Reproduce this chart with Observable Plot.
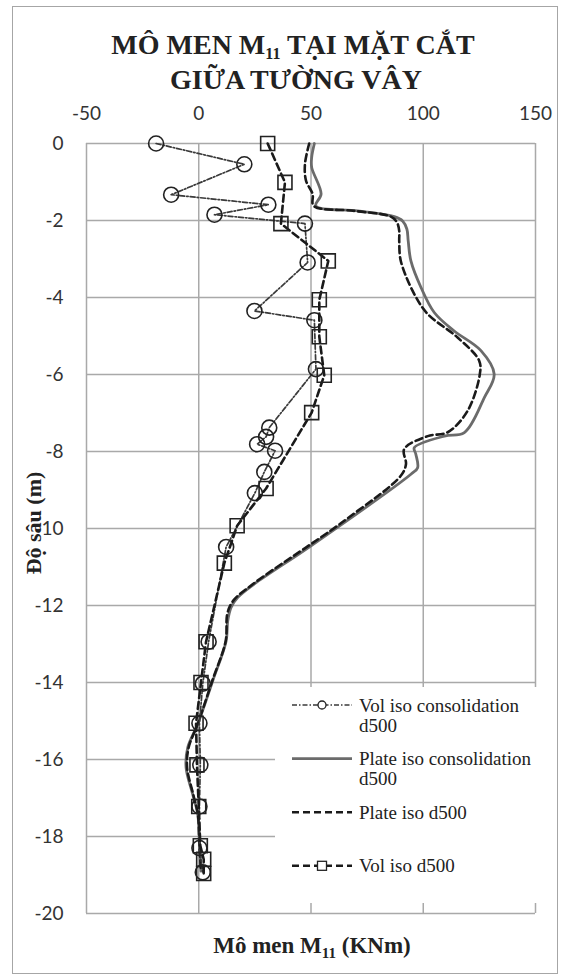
<!DOCTYPE html>
<html><head><meta charset="utf-8">
<script src="https://cdn.jsdelivr.net/npm/d3@7"></script>
<script src="https://cdn.jsdelivr.net/npm/@observablehq/plot@0.6"></script>
<style>
html,body{margin:0;padding:0;background:#fff;}
#wrap{position:relative;width:565px;height:975px;overflow:hidden;background:#fff;}
#frame{position:absolute;left:12px;top:6px;width:546px;height:968px;border:1.5px solid #a6a6a6;box-sizing:border-box;}
#chart{position:absolute;left:0;top:0;}
</style></head><body>
<div id="wrap"><div id="frame"></div><div id="chart"></div></div>
<script>
// ---- data ----
const titleLine1 = ["MÔ MEN M", "11", " TẠI MẶT CẮT"];
const titleLine2 = "GIỮA TƯỜNG VÂY";
const xLabelParts = ["Mô men M", "11", " (KNm)"];
const yLabel = "Độ sâu (m)";
const xTicks = [-50, 0, 50, 100, 150];
const yTicks = [0, -2, -4, -6, -8, -10, -12, -14, -16, -18, -20];
const seriesNames = ["Vol iso consolidation d500", "Plate iso consolidation d500", "Plate iso d500", "Vol iso d500"];

const volConsDepth  = [0, -0.54, -1.33, -1.59, -1.85, -2.08, -3.09, -4.35, -4.59, -5.86, -7.38, -7.62, -7.81, -7.98, -8.53, -9.08, -10.48, -12.94, -14.03, -15.06, -16.14, -17.22, -18.3, -18.93];
const volConsMoment = [-19, 20.3, -12.3, 31, 7, 47.3, 48.5, 24.8, 51.5, 52.2, 31.4, 30, 26, 34, 29.2, 25, 12.2, 4.4, 1.8, 0.3, 0.7, 0.3, 0.3, 1.8];

const plateConsDepth  = [0, -0.36, -0.62, -1.31, -1.62, -1.75, -1.9, -2.01, -2.22, -2.53, -3.05, -3.74, -4.39, -4.87, -5.38, -5.99, -6.6, -7.51, -7.6, -7.9, -8.07, -8.42, -8.59, -10.45, -11.44, -11.79, -12.05, -12.4, -12.92, -13.96, -15.08, -15.69, -16.21, -16.9, -17.42, -18.2, -18.9];
const plateConsMoment = [51.5, 50.3, 50.3, 54.5, 52.2, 70.8, 87.1, 90.8, 92.7, 93.3, 94.5, 99, 104.9, 113.8, 125.7, 131.6, 127.2, 118.3, 109.4, 96, 96.7, 97.5, 94.5, 50, 24.8, 17.4, 14.4, 12.9, 12.2, 6.2, -0.45, -4.9, -5.65, -2.7, -0.45, 0.3, 1];

const plateDepth  = [0, -0.54, -0.97, -1.31, -1.62, -1.75, -1.9, -2.05, -2.27, -2.53, -3.05, -3.91, -4.43, -5.04, -5.64, -5.99, -6.94, -7.5, -7.6, -7.94, -8.33, -8.63, -9.8, -11.45, -11.88, -12.22, -12.92, -13.96, -15.08, -15.69, -16.21, -16.9, -17.42, -18.2, -18.9];
const plateMoment = [49.2, 47.3, 47.8, 50.7, 51.2, 69.3, 85.6, 88.3, 89.3, 89.3, 90, 96, 102, 115.3, 124.9, 125.2, 119.8, 110.9, 102, 91.5, 92.3, 90, 64.8, 24, 15.3, 12.7, 12.0, 6.0, -0.5, -4.5, -5.2, -2.5, -0.4, 0.3, 1];

const volDepth  = [0, -1.01, -2.08, -3.05, -4.06, -5.02, -6.02, -6.99, -8.96, -9.93, -10.9, -12.94, -14.0, -15.06, -16.14, -17.22, -18.24, -18.59, -18.96];
const volMoment = [30.7, 38.4, 36.6, 57.7, 53.7, 53.7, 55.9, 50.3, 30, 17.1, 11.4, 3.25, 1, -1.2, -0.8, 0, 0.7, 2.2, 2.2];

// ---- build tables ----
const toRows = (ms, ds) => ms.map((m, i) => ({m, d: ds[i]}));
const volCons = toRows(volConsMoment, volConsDepth);
const plateCons = toRows(plateConsMoment, plateConsDepth);
const plateIso = toRows(plateMoment, plateDepth);
const volIso = toRows(volMoment, volDepth);

const styles = [
  {stroke: "#3a3a3a", strokeWidth: 1.7, dash: "5,2,1.5,2", symbol: "circle"},
  {stroke: "#6b6b6b", strokeWidth: 2.8, dash: null, symbol: null},
  {stroke: "#1a1a1a", strokeWidth: 2.6, dash: "7,4", symbol: null},
  {stroke: "#1a1a1a", strokeWidth: 2.6, dash: "7,4", symbol: "square"}
];
const grid = "#a9a9a9";

const chart = Plot.plot({
  width: 565, height: 975,
  marginLeft: 86, marginRight: 30, marginTop: 143, marginBottom: 62,
  style: {fontFamily: "Lato, 'Liberation Sans', sans-serif", fontSize: "19px", color: "#333", background: "transparent", overflow: "visible"},
  x: {domain: [-50, 150]},
  y: {domain: [-20, 0]},
  marks: [
    Plot.ruleX(xTicks, {stroke: grid, strokeWidth: 1.5}),
    Plot.ruleY(yTicks, {stroke: grid, strokeWidth: 1.5}),
    Plot.line(plateCons, {x: "m", y: "d", stroke: styles[1].stroke, strokeWidth: styles[1].strokeWidth, curve: "catmull-rom"}),
    Plot.line(plateIso, {x: "m", y: "d", stroke: styles[2].stroke, strokeWidth: styles[2].strokeWidth, strokeDasharray: styles[2].dash, curve: "catmull-rom"}),
    Plot.line(volCons, {x: "m", y: "d", stroke: styles[0].stroke, strokeWidth: styles[0].strokeWidth, strokeDasharray: styles[0].dash}),
    Plot.dot(volCons, {x: "m", y: "d", r: 7.5, stroke: "#222", strokeWidth: 1.6, fill: "none"}),
    Plot.line(volIso, {x: "m", y: "d", stroke: styles[3].stroke, strokeWidth: styles[3].strokeWidth, strokeDasharray: styles[3].dash}),
    Plot.dot(volIso, {x: "m", y: "d", symbol: "square", r: 7.9, stroke: "#222", strokeWidth: 1.6, fill: "none"}),
    Plot.axisX({anchor: "top", ticks: xTicks, tickSize: 0, tickPadding: 24, tickFormat: d => String(d), label: null}),
    Plot.axisY({ticks: yTicks, tickSize: 0, tickPadding: 23, tickFormat: d => String(d), label: null})
  ]
});
document.getElementById("chart").appendChild(chart);

// ---- annotations ----
const svg = d3.select(chart);
const serif = "'Liberation Serif', 'Times New Roman', serif";
function subText(x, y, parts, size, subSize, drop) {
  const t = svg.append("text").attr("x", x).attr("y", y).attr("text-anchor", "middle")
    .style("font-family", serif).style("font-weight", "bold").style("font-size", size + "px").attr("fill", "#222");
  t.append("tspan").text(parts[0]);
  t.append("tspan").attr("dy", drop).style("font-size", subSize + "px").text(parts[1]);
  t.append("tspan").attr("dy", -drop).text(parts[2]);
  return t;
}
subText(293, 54, titleLine1, 28, 16, 4.5);
svg.append("text").attr("x", 296).attr("y", 89).attr("text-anchor", "middle")
  .style("font-family", serif).style("font-weight", "bold").style("font-size", "28px").attr("fill", "#222").text(titleLine2);
subText(312, 953, xLabelParts, 23, 15, 5);
svg.append("text").attr("transform", "translate(33,523) rotate(-90)").attr("text-anchor", "middle").attr("dy", "0.35em")
  .style("font-family", serif).style("font-weight", "bold").style("font-size", "22px").attr("fill", "#222").text(yLabel);

// legend
const lg = svg.append("g");
lg.append("rect").attr("x", 275).attr("y", 687).attr("width", 270).attr("height", 216).attr("fill", "#fff");
const wrap = name => {
  if (name.length <= 15) return [name];
  const k = name.lastIndexOf(" ");
  return [name.slice(0, k), name.slice(k + 1)];
};
seriesNames.forEach((name, i) => {
  const y = 705 + i * 53.6;
  const s = styles[i];
  lg.append("line").attr("x1", 292).attr("x2", 352).attr("y1", y).attr("y2", y)
    .attr("stroke", s.stroke).attr("stroke-width", s.strokeWidth).attr("stroke-dasharray", s.dash);
  if (s.symbol === "circle") {
    lg.append("circle").attr("cx", 322).attr("cy", y).attr("r", 4).attr("fill", "#fff").attr("stroke", "#222").attr("stroke-width", 1.3);
  } else if (s.symbol === "square") {
    lg.append("rect").attr("x", 317.5).attr("y", y - 4.5).attr("width", 9).attr("height", 9).attr("fill", "#fff").attr("stroke", "#222").attr("stroke-width", 1.3);
  }
  const t = lg.append("text").attr("x", 359).attr("y", y + 6.5).attr("text-anchor", "start")
    .style("font-family", serif).style("font-size", "19px").attr("fill", "#222");
  wrap(name).forEach((ln, j) => t.append("tspan").attr("x", 359).attr("dy", j ? 20 : 0).text(ln));
});
</script>
</body></html>
